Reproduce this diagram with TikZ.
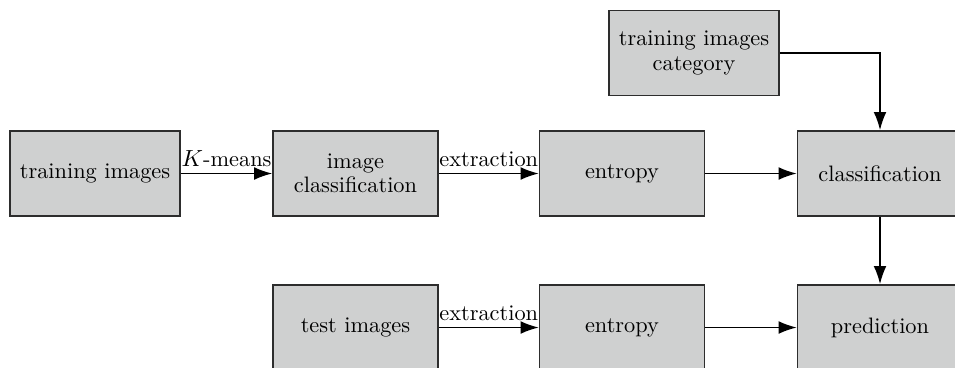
\documentclass[tikz,border=0pt]{standalone}
\usetikzlibrary{arrows.meta}
\usetikzlibrary{calc}
\usepackage{amsmath}

\definecolor{boxgray}{RGB}{207,208,208}
\definecolor{edgegray}{RGB}{45,45,45}

\begin{document}
\begin{tikzpicture}[x=0.47pt, y=-0.47pt,
    stagebox/.style={draw=edgegray, fill=boxgray, line width=0.8pt,
        minimum width=77.5pt, minimum height=40pt, align=center,
        inner sep=2pt, font=\fontsize{10.5}{11.5}\selectfont},
    flow/.style={-{Latex[length=8.5pt, width=6pt]}, line width=0.7pt},
    tag/.style={above, inner sep=3pt, font=\fontsize{10.5}{11}\selectfont}]
    \useasboundingbox (0,0) rectangle (955,367);

    % The training branch
        \node[stagebox, minimum width=80pt] (train) at (95,173.5) {training images};
        \node[stagebox] (imgcls) at (355.5,173.5) {image\\classification};
        \node[stagebox] (entA) at (622,173.5) {entropy};
        \node[stagebox] (cls) at (880,173.5) {classification};
        \node[stagebox, minimum width=80pt] (cat) at (694,53) {training images\\category};

    % The test branch
        \node[stagebox] (test) at (355.5,327.5) {test images};
        \node[stagebox] (entB) at (622,327.5) {entropy};
        \node[stagebox] (pred) at (880,327.5) {prediction};

        \draw[flow] (train) -- node[tag] {$K$-means} (imgcls);
        \draw[flow] (imgcls) -- node[tag] {extraction} (entA);
        \draw[flow] (entA) -- (cls);
        \draw[flow] (cat.east) -| (cls.north);
        \draw[flow] (cls) -- (pred);
        \draw[flow] (test) -- node[tag] {extraction} (entB);
        \draw[flow] (entB) -- (pred);
    \end{tikzpicture}
\end{document}
